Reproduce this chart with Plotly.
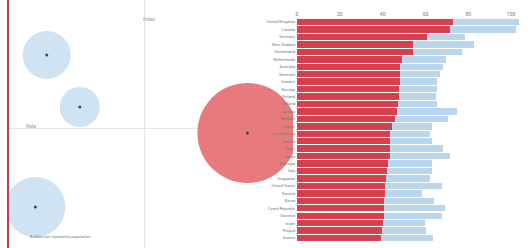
import plotly.graph_objects as go

# ---- bubble panel data ----
bubble_names = ["Group A", "Group B", "Group C", "Group D"]
bubble_x = [-0.86, -0.57, -0.96, 0.90]
bubble_y = [0.73, 0.21, -0.79, -0.05]
bubble_size = [48, 40, 60, 100]
bubble_colors = ["#cbe0f1", "#cbe0f1", "#cbe0f1", "#e46b6f"]

# ---- bar panel data ----
categories = [
    "United Kingdom", "Canada", "Germany", "New Zealand", "Switzerland",
    "Netherlands", "Australia", "Denmark", "Sweden", "Norway",
    "Finland", "Ireland", "Austria", "Belgium", "France",
    "Luxembourg", "Iceland", "Spain", "Japan", "Portugal",
    "Italy", "Singapore", "United States", "Estonia", "Korea",
    "Czech Republic", "Slovenia", "Israel", "Poland", "Greece",
]
red_values = [72.9, 71.5, 60.7, 54.2, 54.2, 49.1, 48.1, 48.1, 48.1, 47.7,
              47.7, 47.2, 46.7, 45.8, 44.4, 43.5, 43.5, 43.5, 43.5, 42.5,
              42.1, 41.6, 41.1, 41.1, 40.7, 40.7, 40.7, 40.2, 39.7, 39.3]
blue_values = [30.8, 30.8, 17.8, 28.5, 22.9, 20.6, 20.1, 18.7, 17.3, 17.8,
               17.3, 18.2, 28.0, 24.8, 18.7, 18.7, 19.6, 24.8, 28.0, 20.6,
               21.0, 20.6, 26.6, 17.3, 23.4, 28.5, 27.1, 19.6, 20.6, 24.3]
bar_ticks = [0, 20, 40, 60, 80, 100]

fig = go.Figure()

fig.add_trace(go.Scatter(
    x=bubble_x, y=bubble_y, mode="markers", text=bubble_names,
    marker=dict(size=bubble_size, sizemode="diameter", sizeref=1,
                color=bubble_colors, opacity=0.9, line=dict(width=0)),
    xaxis="x", yaxis="y", showlegend=False, hoverinfo="text"))
fig.add_trace(go.Scatter(
    x=bubble_x, y=bubble_y, mode="markers",
    marker=dict(size=3, color="#3a4a5a"),
    xaxis="x", yaxis="y", showlegend=False, hoverinfo="skip"))

fig.add_trace(go.Bar(
    y=categories, x=red_values, orientation="h",
    marker=dict(color="#d5424f", line=dict(width=0)),
    xaxis="x2", yaxis="y2", showlegend=False, name="Share"))
fig.add_trace(go.Bar(
    y=categories, x=blue_values, orientation="h",
    marker=dict(color="#b9d6ed", line=dict(width=0)),
    xaxis="x2", yaxis="y2", showlegend=False, name="Rest"))

fig.update_layout(
    width=532, height=248,
    margin=dict(l=0, r=0, t=0, b=0),
    paper_bgcolor="white", plot_bgcolor="white",
    barmode="stack", bargap=0.14,
    font=dict(family="Roboto, sans-serif", size=5, color="#888"),
    xaxis=dict(domain=[8/532, 293/532], range=[-1.2, 1.3],
               showgrid=False, zeroline=True, zerolinecolor="#e6e6e6",
               zerolinewidth=1, showticklabels=False, showline=False),
    yaxis=dict(domain=[0, 1], range=[-1.2, 1.28],
               showgrid=False, zeroline=True, zerolinecolor="#e6e6e6",
               zerolinewidth=1, showticklabels=False, showline=False),
    xaxis2=dict(domain=[297/532, 525/532], range=[0, 106.5], side="top",
                anchor="y2", tickvals=bar_ticks, showgrid=False,
                zeroline=False, showline=False, ticks="",
                tickfont=dict(size=5, color="#777")),
    yaxis2=dict(domain=[0.025, 0.926], anchor="x2", autorange="reversed",
                showgrid=False, zeroline=False, showline=True,
                linecolor="white", linewidth=1, ticks="",
                tickfont=dict(size=4, color="#777")),
    shapes=[dict(type="line", xref="paper", yref="paper",
                 x0=8/532, x1=8/532, y0=0, y1=1,
                 line=dict(color="#c4404e", width=2))],
    annotations=[
        dict(text="Index", xref="paper", yref="paper", x=149/532, y=1-14/248,
             showarrow=False, xanchor="center", font=dict(size=5, color="#999")),
        dict(text="Rate", xref="paper", yref="paper", x=24/532, y=1-126/248,
             showarrow=False, xanchor="left", font=dict(size=5, color="#999")),
        dict(text="Bubble size represents population", xref="paper",
             yref="paper", x=28/532, y=1-241/248, showarrow=False,
             xanchor="left", font=dict(size=4, color="#777")),
    ],
)

fig.write_html("out.html",
               config={"displayModeBar": False},
               post_script="document.body.style.margin='0';document.body.style.overflow='hidden';")
